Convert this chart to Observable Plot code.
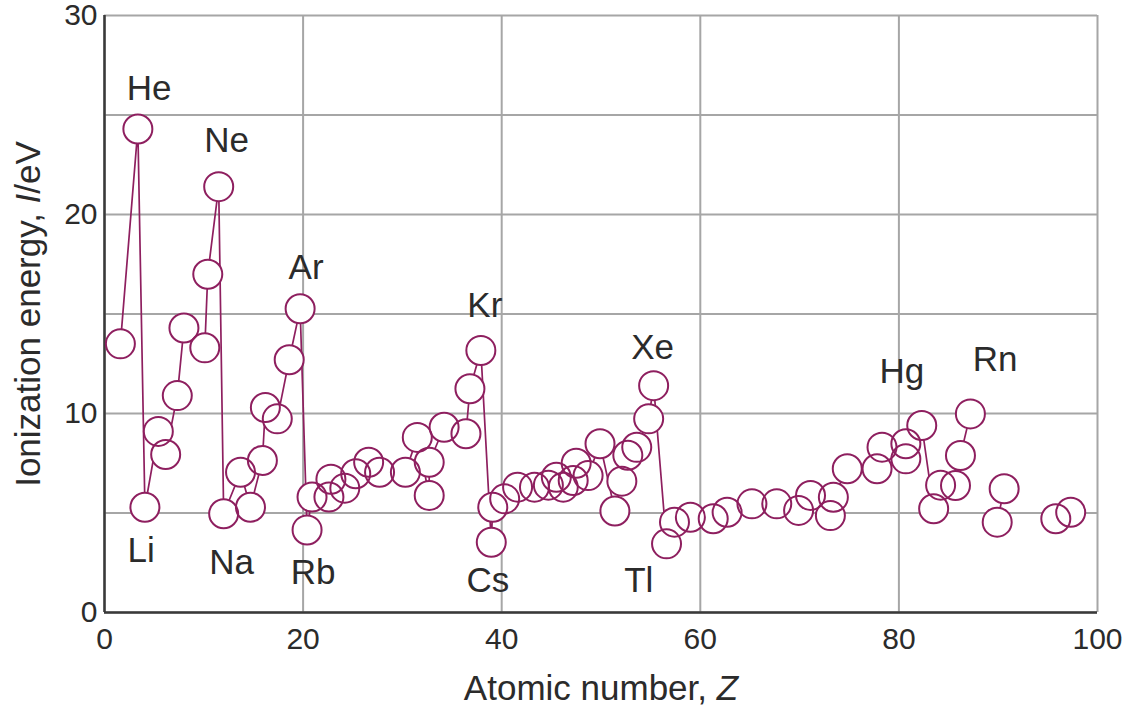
<!DOCTYPE html>
<html>
<head>
<meta charset="utf-8">
<script src="https://cdn.jsdelivr.net/npm/d3@7"></script>
<script src="https://cdn.jsdelivr.net/npm/@observablehq/plot@0.6"></script>
<style>
  body { margin: 0; background: #fff; }
  #chart svg { font-family: "Liberation Sans", Arial, Helvetica, sans-serif; }
</style>
</head>
<body>
<div id="chart"></div>
<script>
// Positions along the atomic-number axis as drawn in the figure
const atomicZ = [
  1.6, 3.36, 4.07, 5.42, 6.16, 7.33, 8.0, 10.1, 10.4, 11.5,
  12.0, 13.7, 14.7, 15.9, 16.2, 17.4, 18.6, 19.7,
  20.4, 20.9, 22.6, 22.8, 24.2, 25.3, 26.6, 27.7, 30.3, 31.5, 32.7, 32.7, 34.2, 36.4, 36.8, 37.9,
  38.95, 39.1, 40.3, 41.6, 43.3, 44.7, 45.5, 46.2, 47.2, 47.5, 48.7, 49.9, 51.4, 52.1, 52.7, 53.6, 54.8, 55.3,
  56.6, 57.4, 59.0, 61.3, 62.7, 65.2, 67.7, 69.9, 71.1, 73.1, 73.4, 74.8, 77.8, 78.3, 80.7, 80.7, 82.3,
  83.5, 84.2, 85.7, 86.2, 87.2,
  89.9, 90.6,
  95.8, 97.3
];
// First ionization energy, eV
const ionEnergy = [
  13.5, 24.3, 5.29, 9.10, 7.94, 10.9, 14.3, 13.3, 17.0, 21.4,
  4.96, 7.05, 5.29, 7.64, 10.3, 9.73, 12.7, 15.26,
  4.15, 5.8, 5.8, 6.7, 6.25, 6.97, 7.55, 7.05, 7.05, 8.8, 5.88, 7.55, 9.31, 8.98, 11.24, 13.17,
  3.53, 5.29, 5.71, 6.3, 6.3, 6.4, 6.8, 6.3, 6.63, 7.5, 6.88, 8.48, 5.1, 6.6, 7.9, 8.3, 9.73, 11.4,
  3.45, 4.54, 4.79, 4.71, 5.04, 5.46, 5.46, 5.13, 5.88, 4.87, 5.79, 7.22, 7.22, 8.31, 7.72, 8.48, 9.40,
  5.21, 6.4, 6.38, 7.89, 9.98,
  4.54, 6.22,
  4.71, 5.04
];
// Which connected run each point belongs to
const lineRun = [
  0,0,0,0,0,0,0,0,0,0,
  0,0,0,0,0,0,0,0,
  0,0,0,0,0,0,0,0,0,0,0,0,0,0,0,0,
  0,0,0,0,0,0,0,0,0,0,0,0,0,0,0,0,0,0,
  0,0,0,0,0,0,0,0,0,0,0,0,0,0,0,0,0,
  0,0,0,0,0,
  1,1,
  2,2
];

const labelText = ["He", "Ne", "Ar", "Kr", "Xe", "Hg", "Rn", "Li", "Na", "Rb", "Cs", "Tl"];
const labelZ    = [4.5, 12.3, 20.3, 38.3, 55.2, 80.3, 89.7, 3.7, 12.8, 21.0, 38.6, 53.8];
const labelIE   = [26.3, 23.7, 17.3, 15.4, 13.3, 12.1, 12.7, 3.1, 2.5, 2.0, 1.6, 1.6];

const xTicks = [0, 20, 40, 60, 80, 100];
const yTicks = [0, 10, 20, 30];
const yGrid = [0, 5, 10, 15, 20, 25, 30];

const xTitle = "Atomic number, Z";
const yTitle = "Ionization energy, I/eV";

const points = atomicZ.map((z, i) => ({ z, e: ionEnergy[i], run: lineRun[i] }));
const labels = labelText.map((t, i) => ({ t, z: labelZ[i], e: labelIE[i] }));

const ink = "#8e1f5f";
const gridColor = "#a6a6a6";
const textColor = "#2b2b2b";

const chart = Plot.plot({
  width: 1138,
  height: 705,
  marginLeft: 104,
  marginRight: 41,
  marginTop: 15,
  marginBottom: 93,
  style: { background: "#fff", fontFamily: '"Liberation Sans", Arial, sans-serif', overflow: "visible" },
  x: { domain: [0, 100], label: null },
  y: { domain: [0, 30], label: null },
  marks: [
    Plot.ruleY(yGrid, { stroke: gridColor, strokeWidth: 2 }),
    Plot.ruleX(xTicks, { stroke: gridColor, strokeWidth: 2 }),
    Plot.ruleX([0], { stroke: "#3a3a3a", strokeWidth: 2.5 }),
    Plot.ruleY([0], { stroke: "#3a3a3a", strokeWidth: 2.5 }),
    Plot.line(points, { x: "z", y: "e", z: "run", stroke: ink, strokeWidth: 1.7 }),
    Plot.dot(points, { x: "z", y: "e", r: 14.5, fill: "white", stroke: "none" }),
    Plot.dot(points, { x: "z", y: "e", r: 14.5, fill: "none", stroke: ink, strokeWidth: 2 }),
    Plot.text(labels, { x: "z", y: "e", text: "t", fontSize: 35, fill: textColor }),
    Plot.axisX({ ticks: xTicks, tickSize: 0, tickPadding: 15, fontSize: 30, label: null, color: textColor }),
    Plot.axisY({ ticks: yTicks, tickSize: 0, tickPadding: 7, fontSize: 30, label: null, color: textColor }),
    Plot.text([xTitle], { frameAnchor: "bottom", lineAnchor: "middle", textAnchor: "middle", dy: 76, fontSize: 35, fill: textColor }),
    Plot.text([yTitle], { frameAnchor: "left", lineAnchor: "middle", textAnchor: "middle", rotate: -90, dx: -76, fontSize: 35, fill: textColor })
  ]
});

// italic variable symbols inside the axis titles
d3.select(chart).selectAll("text").each(function () {
  const t = this.textContent;
  const sel = d3.select(this);
  if (t === xTitle) {
    sel.text(null);
    sel.append("tspan").text("Atomic number, ");
    sel.append("tspan").attr("font-style", "italic").text("Z");
  } else if (t === yTitle) {
    sel.text(null);
    sel.append("tspan").text("Ionization energy, ");
    sel.append("tspan").attr("font-style", "italic").text("I");
    sel.append("tspan").text("/eV");
  }
});

document.getElementById("chart").appendChild(chart);
</script>
</body>
</html>
